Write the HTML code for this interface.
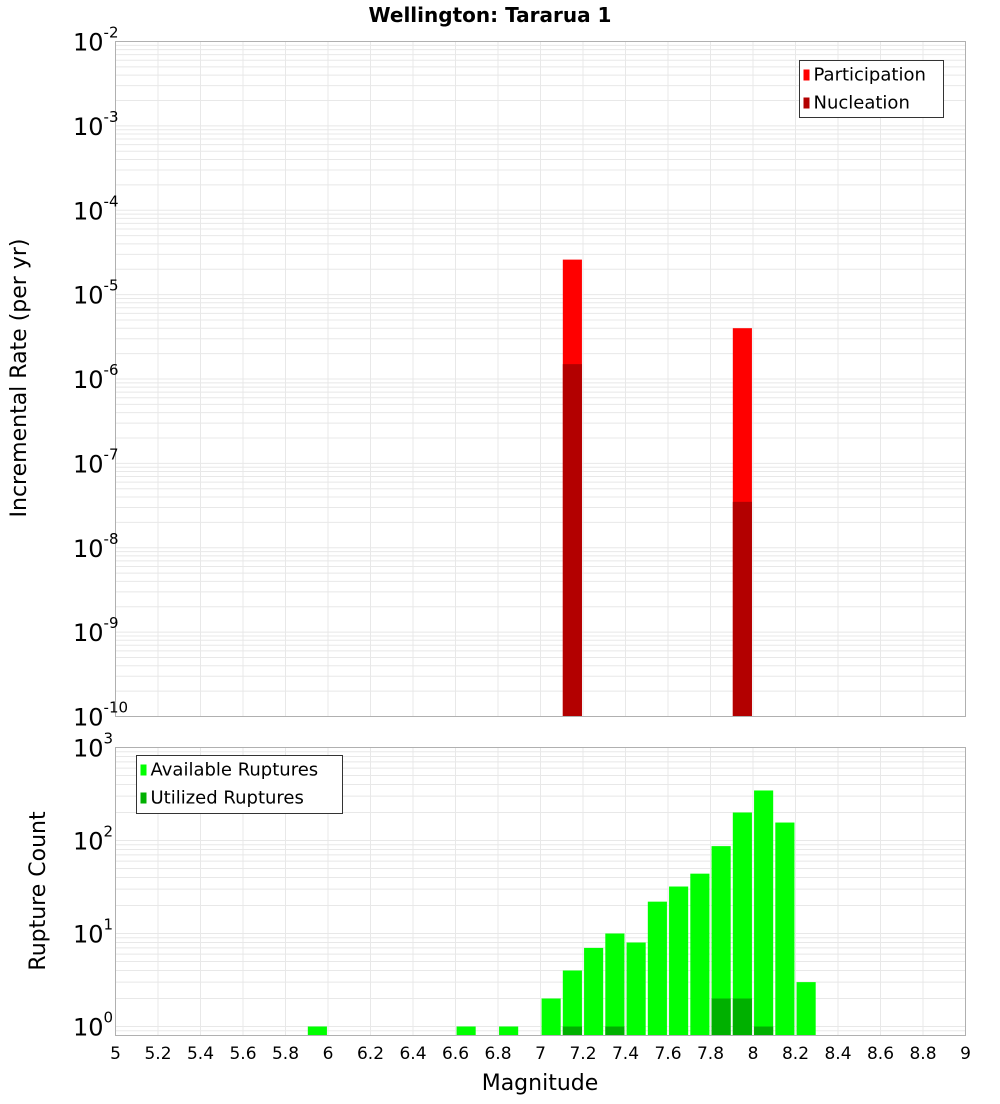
<!DOCTYPE html>
<html><head><meta charset="utf-8"><style>
body{margin:0;background:#fff;font-family:"DejaVu Sans","Liberation Sans",sans-serif}
</style></head><body>
<svg id="c" width="1000" height="1100" xmlns="http://www.w3.org/2000/svg" style="font-family:'DejaVu Sans','Liberation Sans',sans-serif">
<text x="490" y="22" text-anchor="middle" font-size="20" font-weight="bold">Wellington: Tararua 1</text>
<text transform="translate(26,378) rotate(-90)" text-anchor="middle" font-size="22">Incremental Rate (per yr)</text>
<text transform="translate(45,891) rotate(-90)" text-anchor="middle" font-size="22">Rupture Count</text>
<text x="540" y="1090" text-anchor="middle" font-size="22">Magnitude</text>
</svg>
<script>
const rateMags=[7.15,7.95];
const participation=[2.6e-5,4.0e-6];
const nucleation=[1.5e-6,3.5e-8];
const countMags=[5.95,6.65,6.85,7.05,7.15,7.25,7.35,7.45,7.55,7.65,7.75,7.85,7.95,8.05,8.15,8.25];
const available=[1,1,1,2,4,7,10,8,22,32,44,87,200,345,156,3];
const utilMags=[7.15,7.35,7.85,7.95,8.05];
const utilized=[1,1,2,2,1];
const xTicks=[5,5.2,5.4,5.6,5.8,6,6.2,6.4,6.6,6.8,7,7.2,7.4,7.6,7.8,8,8.2,8.4,8.6,8.8,9];
const topDecades=[-2,-3,-4,-5,-6,-7,-8,-9,-10];
const botDecades=[3,2,1,0];

const svg=document.getElementById('c');
const NS='http://www.w3.org/2000/svg';
function mk(t,a,p){const e=document.createElementNS(NS,t);for(const k in a)e.setAttribute(k,a[k]);(p||svg).appendChild(e);return e;}
const L=115.5,R=965.5;
const x=m=>L+(m-5)/4*(R-L);
const T1=41.5,B1=716.5;
const y1=v=>T1+(-2-Math.log10(v))*(B1-T1)/8;
const T2=747.5,B2=1035.5,dec2=93;
const y2=v=>T2+(3-Math.log10(v))*dec2;

function grid(top,bot,yf,dmin,dmax,gname){
  const g=mk('g',{});
  
  
  for(let d=dmin;d<dmax+1;d++)for(let k=1;k<10;k++){
    const yy=yf(k*Math.pow(10,d));
    if(yy<top-0.1||yy>bot+0.1)continue;
    mk('line',{x1:L,x2:R,y1:yy,y2:yy,stroke:'#e8e8e8','stroke-width':1},g);
  }
  xTicks.forEach(t=>mk('line',{x1:x(t),x2:x(t),y1:top,y2:bot,stroke:'#e8e8e8','stroke-width':1},g));
}
grid(T1,B1,y1,-10,-3,'top-grid');
grid(T2,B2,y2,-1,2,'bottom-grid');

const bw=(x(5.1)-x(5))*0.9;
rateMags.forEach((m,i)=>{
  const r=mk('rect',{x:x(m)-bw/2,y:y1(participation[i]),width:bw,height:B1-y1(participation[i]),fill:'#ff0000'});
  
  
  const n=mk('rect',{x:x(m)-bw/2,y:y1(nucleation[i]),width:bw,height:B1-y1(nucleation[i]),fill:'#b30000'});
  
  
});
countMags.forEach((m,i)=>{
  const r=mk('rect',{x:x(m)-bw/2,y:y2(available[i]),width:bw,height:B2-y2(available[i]),fill:'#00ff00'});
  
  
});
utilMags.forEach((m,i)=>{
  const r=mk('rect',{x:x(m)-bw/2,y:y2(utilized[i]),width:bw,height:B2-y2(utilized[i]),fill:'#00b000'});
  
  
});

const f1=mk('rect',{x:L,y:T1,width:R-L,height:B1-T1,fill:'none',stroke:'#b0b0b0'});


const f2=mk('rect',{x:L,y:T2,width:R-L,height:B2-T2,fill:'none',stroke:'#b0b0b0'});



function ylab(yy,exp,name){
  const t=mk('text',{x:73,y:yy+9,'font-size':24});
  
  
  t.textContent='10';
  const s=mk('tspan',{dy:-13,'font-size':15},t);
  s.textContent=String(exp);
}
topDecades.forEach(d=>ylab(y1(Math.pow(10,d)),d,'top-y-tick-label'));
botDecades.forEach(d=>ylab(y2(Math.pow(10,d)),d,'bottom-y-tick-label'));
xTicks.forEach(t=>{
  const e=mk('text',{x:x(t),y:1059,'text-anchor':'middle','font-size':17});
  
  
  e.textContent=String(t);
});

function legend(bx,by,w,h,items,name){
  const g=mk('g',{});
  
  
  mk('rect',{x:bx,y:by,width:w,height:h,fill:'#fff',stroke:'#333','stroke-width':1},g);
  items.forEach((it,i)=>{
    mk('rect',{x:bx+4,y:by+9+i*28,width:6,height:11,fill:it[1]},g);
    const t=mk('text',{x:bx+14,y:by+20+i*28,'font-size':18},g);
    t.textContent=it[0];
  });
}
legend(799.5,60.5,144,57,[['Participation','#ff0000'],['Nucleation','#b30000']],'top-legend');
legend(136.5,755.5,206,58,[['Available Ruptures','#00ff00'],['Utilized Ruptures','#00b000']],'bottom-legend');
</script>
</body></html>
